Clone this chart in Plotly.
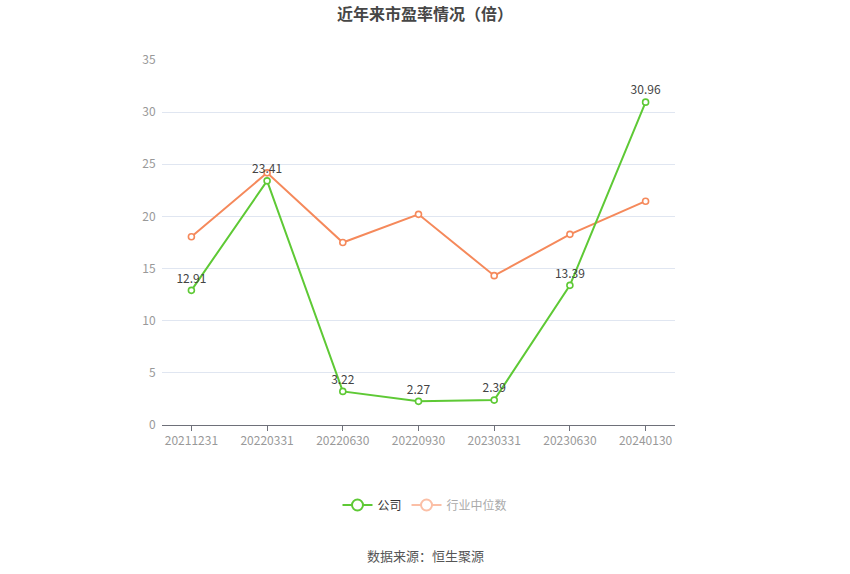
import plotly.graph_objects as go

# 市盈率 data
dates = ["20211231", "20220331", "20220630", "20220930", "20230331", "20230630", "20240130"]
company_pe = [12.91, 23.41, 3.22, 2.27, 2.39, 13.39, 30.96]
industry_pe = [18.05, 24.18, 17.50, 20.20, 14.32, 18.28, 21.46]

green = "#5ec935"
orange = "#f5895b"
font_family = "Noto Sans CJK SC, Noto Sans, sans-serif"

W, H = 850, 574

fig = go.Figure()

# industry median line (no labels)
fig.add_trace(go.Scatter(
    x=dates, y=industry_pe, mode="lines+markers", showlegend=False,
    line=dict(color=orange, width=2),
    marker=dict(symbol="circle", size=6, color="white", line=dict(color=orange, width=1.6)),
))

# company line with value labels
fig.add_trace(go.Scatter(
    x=dates, y=company_pe, mode="lines+markers+text", showlegend=False,
    text=[f"{v:.2f}" for v in company_pe],
    textposition="top center",
    textfont=dict(color="#444444", size=12),
    line=dict(color=green, width=2),
    marker=dict(symbol="circle", size=6, color="white", line=dict(color=green, width=1.6)),
))

# legend entries with the bigger hollow circles of the original
fig.add_trace(go.Scatter(
    x=[None], y=[None], mode="lines+markers", name="公司",
    line=dict(color=green, width=2),
    marker=dict(symbol="circle", size=11, color="white", line=dict(color=green, width=2)),
))
fig.add_trace(go.Scatter(
    x=[None], y=[None], mode="lines+markers",
    name="<span style='color:#aaaaaa'>行业中位数</span>",
    line=dict(color="#fbbfa6", width=2),
    marker=dict(symbol="circle", size=11, color="white", line=dict(color="#fbbfa6", width=2)),
))

fig.update_layout(
    width=W, height=H,
    margin=dict(l=162, r=175, t=60, b=149),
    plot_bgcolor="white", paper_bgcolor="white",
    font=dict(family=font_family, size=12, color="#666666"),
    title=dict(text="<b>近年来市盈率情况（倍）</b>", x=0.5, xanchor="center",
               y=1 - 14 / H, yanchor="middle",
               font=dict(size=16, color="#464646")),
    showlegend=True,
    legend=dict(orientation="h", xref="container", yref="container",
                x=0.5, xanchor="center", y=1 - 505 / H, yanchor="middle",
                font=dict(size=12, color="#333333")),
    annotations=[dict(text="数据来源：恒生聚源", xref="paper", yref="paper",
                      x=0.513, y=(425 - 555) / 365, xanchor="center", yanchor="middle",
                      showarrow=False, font=dict(size=13, color="#555555"))],
)

fig.update_xaxes(type="category", showgrid=False, showline=True, linecolor="#6e7079",
                 ticks="outside", ticklen=5, tickcolor="#6e7079",
                 tickfont=dict(color="#999999", size=12))
fig.update_yaxes(range=[0, 35], dtick=5, showgrid=True, gridcolor="#e0e6f1",
                 zeroline=False, showline=False,
                 tickfont=dict(color="#999999", size=12), ticksuffix="  ")

# drop the default body margin so the figure sits at the page corner
fig.write_html("out.html", config={"displayModeBar": False},
               post_script="document.body.style.margin = '0';")
